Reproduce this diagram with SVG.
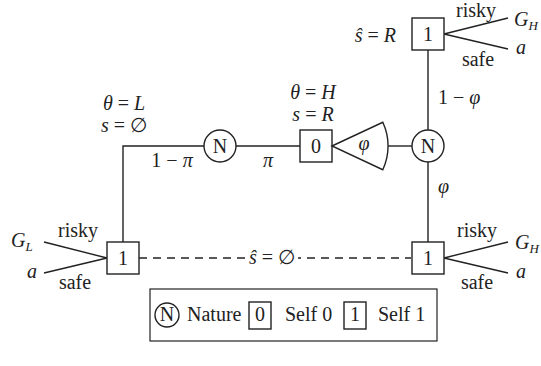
<svg xmlns="http://www.w3.org/2000/svg" width="541" height="366" viewBox="0 0 541 366">
<style>
text{font-family:"Liberation Serif","DejaVu Serif",serif;font-size:20px;fill:#222}
.m{font-style:italic}
.c{text-anchor:middle}
.sub{font-size:13px;font-style:italic}
.ln{stroke:#222;stroke-width:1.4;fill:none}
.nd{stroke:#222;stroke-width:1.4;fill:#fff}
.dash{stroke-dasharray:8 6}
</style>
<rect width="541" height="366" fill="#fff"/>
<g id="connectors">
<path class="ln" d="M236,146 H300"/>
<path class="ln" d="M204,146 H123 V242"/>
<path class="ln" d="M388,146 H412"/>
<path class="ln" d="M428,130 V50"/>
<path class="ln" d="M428,162 V242"/>
<path class="ln dash" d="M139,258 H411"/>
<path class="ln" d="M444,34 L508,18 M444,34 L508,49"/>
<path class="ln" d="M444,258 L508,242 M444,258 L508,273"/>
<path class="ln" d="M107,258 L44,242 M107,258 L44,273"/>
<text x="172" y="167" class="c">1 − <tspan class="m">π</tspan></text>
<text x="268" y="167" class="c m">π</text>
<text x="438" y="104">1 − <tspan class="m">φ</tspan></text>
<text x="438" y="193" class="m">φ</text>
<rect x="248" y="248" width="50" height="20" fill="#fff"/>
<text x="272" y="264" class="c"><tspan class="m">ŝ</tspan> = ∅</text>
</g>
<g id="nature-left">
<circle class="nd" cx="220" cy="146" r="16"/>
<text x="220" y="153" class="c">N</text>
<text x="124" y="110" class="c"><tspan class="m">θ</tspan> = <tspan class="m">L</tspan></text>
<text x="124" y="132" class="c"><tspan class="m">s</tspan> = ∅</text>
</g>
<g id="self0">
<rect class="nd" x="300" y="130" width="32" height="32"/>
<text x="316" y="153" class="c">0</text>
<text x="313" y="99" class="c"><tspan class="m">θ</tspan> = <tspan class="m">H</tspan></text>
<text x="313" y="121" class="c"><tspan class="m">s</tspan> = <tspan class="m">R</tspan></text>
</g>
<g id="signal">
<path class="nd" d="M332,146 L382.8,122.3 A56,56 0 0 1 382.8,169.7 Z"/>
<text x="364" y="150" class="c m">φ</text>
</g>
<g id="nature-right">
<circle class="nd" cx="428" cy="146" r="16"/>
<text x="428" y="153" class="c">N</text>
</g>
<g id="self1-top">
<rect class="nd" x="412" y="18" width="32" height="32"/>
<text x="428" y="41" class="c">1</text>
<text x="396" y="42" style="text-anchor:end"><tspan class="m">ŝ</tspan> = <tspan class="m">R</tspan></text>
<text x="476" y="17" class="c">risky</text>
<text x="478" y="66" class="c">safe</text>
<text x="514" y="26" class="m">G<tspan class="sub" dy="4">H</tspan></text>
<text x="516" y="54" class="m">a</text>
</g>
<g id="self1-right">
<rect class="nd" x="412" y="242" width="32" height="32"/>
<text x="428" y="265" class="c">1</text>
<text x="477" y="237" class="c">risky</text>
<text x="477" y="289" class="c">safe</text>
<text x="515" y="249" class="m">G<tspan class="sub" dy="4">H</tspan></text>
<text x="516" y="278" class="m">a</text>
</g>
<g id="self1-left">
<rect class="nd" x="107" y="242" width="32" height="32"/>
<text x="123" y="265" class="c">1</text>
<text x="78" y="237" class="c">risky</text>
<text x="75" y="289" class="c">safe</text>
<text x="11" y="247" class="m">G<tspan class="sub" dy="4">L</tspan></text>
<text x="27" y="278" class="m">a</text>
</g>
<g id="legend">
<rect x="150" y="289" width="287" height="52" fill="none" stroke="#222" stroke-width="1.2"/>
<circle class="nd" cx="167" cy="315" r="12"/>
<text x="167" y="321" class="c">N</text>
<text x="187" y="321">Nature</text>
<rect class="nd" x="249" y="302" width="22" height="27"/>
<text x="260" y="321" class="c">0</text>
<text x="285" y="321">Self 0</text>
<rect class="nd" x="344" y="302" width="22" height="27"/>
<text x="355" y="321" class="c">1</text>
<text x="378" y="321">Self 1</text>
</g>
</svg>
